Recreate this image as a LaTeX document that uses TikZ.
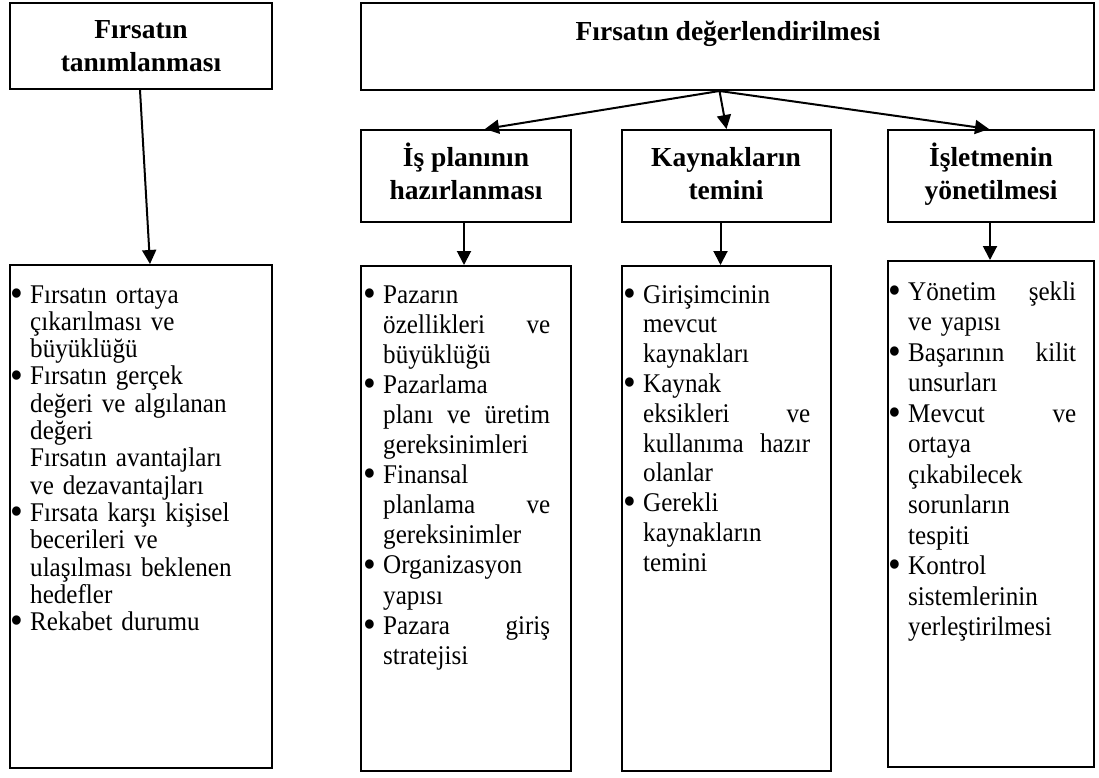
\documentclass[tikz,border=0pt]{standalone}
\usepackage{fontspec}
\setmainfont{Liberation Serif}
\newfontfamily\listfont{Liberation Serif}[FakeStretch=0.93]
\usetikzlibrary{arrows.meta,calc,fit}
\newlength\indw
\setlength\indw{19pt}
\newcommand\bitem{\makebox[\indw][l]{\hspace{-0.5pt}\raisebox{-3.2pt}{\scalebox{1.45}{\textbullet}}}}
\newcommand\bcont{\hspace*{\indw}}
\begin{document}
\begin{tikzpicture}[x=1pt,y=-1pt,
  box/.style={draw,line width=2pt,inner sep=0pt},
  title/.style={font=\fontsize{27.5}{33}\selectfont\bfseries,align=center,inner sep=0pt,anchor=base},
  blist/.style={font=\listfont\fontsize{27}{#1}\selectfont,align=left,inner sep=0pt,anchor=base west},
  arr/.style={line width=2pt,-{Triangle[length=14pt,width=14pt]}}]
\useasboundingbox (0,0) rectangle (1099,778);
% boxes
\node[box,fit={(10,3) (272,89)}] (a) {};
\node[box,fit={(361,3) (1094,90)}] (b) {};
\node[box,fit={(361,130) (571,222)}] (c1) {};
\node[box,fit={(622,130) (831,222)}] (c2) {};
\node[box,fit={(888,130) (1094,222)}] (c3) {};
\node[box,fit={(10,265) (272,768)}] (d0) {};
\node[box,fit={(361,266) (571,771)}] (d1) {};
\node[box,fit={(622,266) (831,771)}] (d2) {};
\node[box,fit={(888,261) (1094,767)}] (d3) {};
% titles (base anchor = last line baseline)
\node[title] (ta) at (141,72) {Fırsatın\\tanımlanması};
\node[title] (tb) at (728,41) {Fırsatın değerlendirilmesi};
\node[title] (tc1) at (466,200) {İş planının\\hazırlanması};
\node[title] (tc2) at (726,200) {Kaynakların\\temini};
\node[title] (tc3) at (991,200) {İşletmenin\\yönetilmesi};
% lists (base anchor = first line baseline)
\node[blist=27.3,text width=252pt] (l0) at (11,303) {%
\bitem Fırsatın ortaya\\
\bcont çıkarılması ve\\
\bcont büyüklüğü\\
\bitem Fırsatın gerçek\\
\bcont değeri ve algılanan\\
\bcont değeri\\
\bcont Fırsatın avantajları\\
\bcont ve dezavantajları\\
\bitem Fırsata karşı kişisel\\
\bcont becerileri ve\\
\bcont ulaşılması beklenen\\
\bcont hedefler\\
\bitem Rekabet durumu};
\node[blist=30.1,text width=186pt] (l1) at (364,303) {%
\bitem Pazarın\\
\bcont özellikleri\hfill ve\\
\bcont büyüklüğü\\
\bitem Pazarlama\\
\bcont planı\hfill ve\hfill üretim\\
\bcont gereksinimleri\\
\bitem Finansal\\
\bcont planlama\hfill ve\\
\bcont gereksinimler\\
\bitem Organizasyon\\
\bcont yapısı\\
\bitem Pazara\hfill giriş\\
\bcont stratejisi};
\node[blist=29.8,text width=186pt] (l2) at (624,303) {%
\bitem Girişimcinin\\
\bcont mevcut\\
\bcont kaynakları\\
\bitem Kaynak\\
\bcont eksikleri\hfill ve\\
\bcont kullanıma\hfill hazır\\
\bcont olanlar\\
\bitem Gerekli\\
\bcont kaynakların\\
\bcont temini};
\node[blist=30.5,text width=187pt] (l3) at (889,300) {%
\bitem Yönetim\hfill şekli\\
\bcont ve yapısı\\
\bitem Başarının\hfill kilit\\
\bcont unsurları\\
\bitem Mevcut\hfill ve\\
\bcont ortaya\\
\bcont çıkabilecek\\
\bcont sorunların\\
\bcont tespiti\\
\bitem Kontrol\\
\bcont sistemlerinin\\
\bcont yerleştirilmesi};
% arrows
\draw[arr] ($(a.south)+(-1,0)$) -- ($(d0.north)+(9,0)$);
\coordinate (bo) at ($(b.south)+(-8,0)$);
\draw[arr] (bo) -- ($(c1.north)+(19,0)$);
\draw[arr] (bo) -- (c2.north);
\draw[arr] (bo) -- ($(c3.north)+(-2,0)$);
\draw[arr] ($(c1.south)+(-2,0)$) -- ($(d1.north)+(-2,0)$);
\draw[arr] ($(c2.south)+(-6,0)$) -- ($(d2.north)+(-6,0)$);
\draw[arr] ($(c3.south)+(-1,0)$) -- ($(d3.north)+(-1,0)$);
\end{tikzpicture}
\end{document}
